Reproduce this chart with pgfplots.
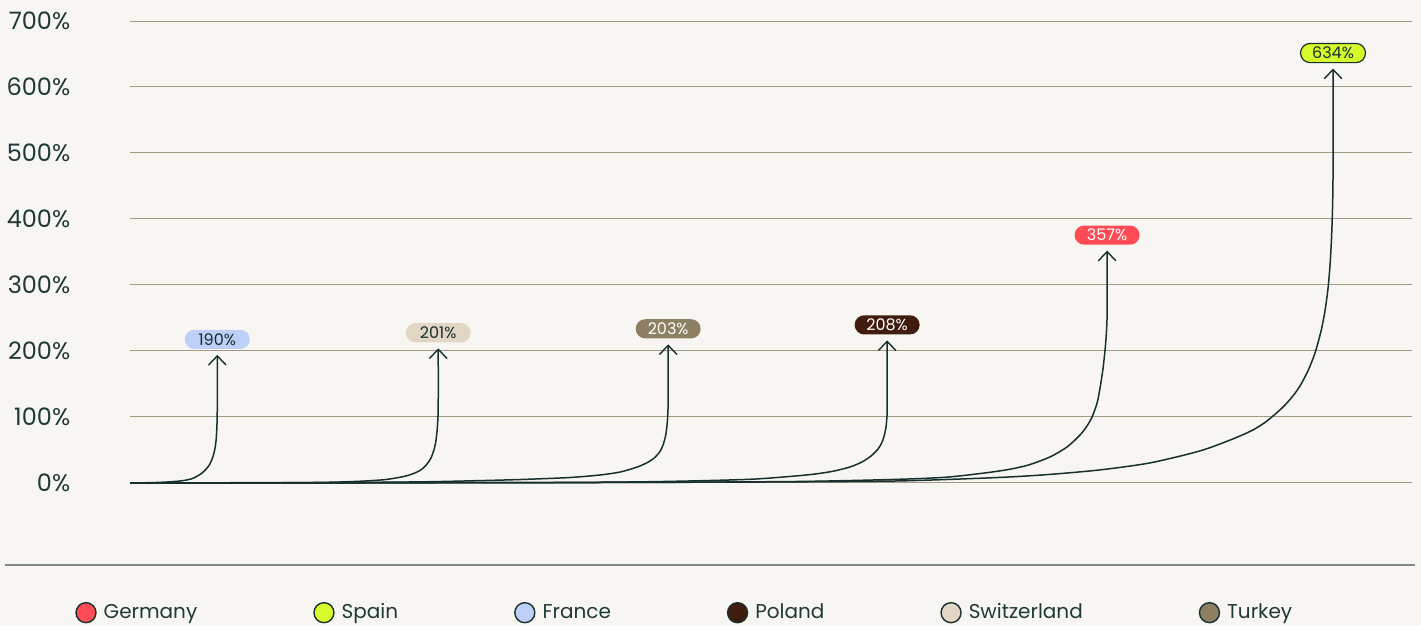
\documentclass[border=0pt]{standalone}
\usepackage{fontspec}
\setmainfont{Poppins}
\usepackage{pgfplots}
\pgfplotsset{compat=1.18}
\usetikzlibrary{arrows.meta}
\definecolor{bg}{HTML}{F8F6F2}
\definecolor{gridc}{HTML}{A39882}
\definecolor{dark}{HTML}{17302D}
\definecolor{tickc}{HTML}{1F3A36}
\definecolor{sepc}{HTML}{7D8A85}
\definecolor{cFrance}{HTML}{BED0F8}
\definecolor{cSwitz}{HTML}{E2D6C5}
\definecolor{cTurkey}{HTML}{8D8062}
\definecolor{cPoland}{HTML}{3F1C0E}
\definecolor{cGermany}{HTML}{FF4B55}
\definecolor{cSpain}{HTML}{D6FA2B}
\begin{document}
\begin{tikzpicture}[x=1pt,y=1pt]
\fill[bg] (0,0) rectangle (710.5,313);
\begin{axis}[
  at={(65pt,71.5pt)}, anchor=south west,
  scale only axis, width=641pt, height=231pt,
  xmin=0, xmax=1282, ymin=0, ymax=700,
  clip=false,
  axis line style={draw=none},
  xtick=\empty,
  ytick={0,100,...,700},
  yticklabels={0\%,100\%,200\%,300\%,400\%,500\%,600\%,700\%},
  major tick length=0pt,
  yticklabel style={font=\fontsize{12}{14}\selectfont, text=tickc, anchor=east, xshift=-26.5pt},
  ymajorgrids, grid style={draw=gridc, line width=0.5pt},
  curve/.style={forget plot, smooth, tension=0.45, draw=dark, line width=0.75pt, -{Straight Barb[length=4.6pt,width=8.8pt,line width=0.7pt]}},
  pill/.style={forget plot, draw=none, mark=none, nodes near coords style={anchor=center, yshift=7.75pt, rounded corners=4.8pt, minimum height=9.6pt, minimum width=32.5pt, inner sep=0pt, font=\fontsize{8}{9}\selectfont}},
  legend columns=6,
  legend image code/.code={\draw[#1, draw=dark, line width=0.7pt] (5pt,0pt) circle (5pt);},
  legend style={at={(-0.0429,-0.281)}, anchor=west, draw=none, fill=none, inner sep=0pt, outer sep=0pt,
    font=\fontsize{10}{12}\selectfont, text=tickc,
    /tikz/every even column/.append style={column sep=54.5pt},
    nodes={inner sep=3.5pt}},
]
% France
\addplot[curve] coordinates {(0,0) (20,0.3) (35,1.2) (45,2.2) (53,3.5) (62,6.5) (70,13) (75,19.5) (79,27) (81.5,35) (83.5,44) (85,55) (86,68) (86.6,85) (86.9,100) (87,120) (87,194)};
% Switzerland
\addplot[curve] coordinates {(0,0) (150,0.2) (200,1) (230,2.5) (255,5) (273,9.5) (283,14) (291,20) (296.5,28) (300.5,37) (303.5,49) (305.5,62) (306.8,78) (307.6,96) (308,120) (308,204)};
% Turkey
\addplot[curve] coordinates {(0,0) (200,0.5) (288,1.5) (338,3) (388,5) (438,8) (470,12) (490,16.5) (507,24) (518,31.5) (525,39) (530,48) (533,58) (535.5,72) (537,90) (537.7,108) (538,125) (538,210)};
% Poland
\addplot[curve] coordinates {(0,0) (400,0.5) (507,1.5) (577,3.5) (627,6) (677,12.1) (702,17.4) (720,24.2) (732,31.8) (741,40.9) (748,51.5) (752,62) (754.5,74) (756,86) (756.7,98.5) (757,114) (757,216)};
% Germany
\addplot[curve] coordinates {(0,0) (400,0.4) (550,1) (677,2.3) (770,5.5) (820,9.1) (870,18.2) (897,26.5) (920,39.4) (937,54.5) (950,72.7) (957,86.4) (962,100) (967,121) (970,144) (973,174) (975,202) (976,220) (976.7,239) (977,258) (977,352)};
% Spain
\addplot[curve] coordinates {(0,0) (300,0.2) (500,0.7) (650,1.5) (770,3) (870,8.3) (920,12.9) (970,19.7) (1020,30.3) (1070,48.5) (1103,66.7) (1123,80.3) (1137,93.9) (1153,115) (1163,132) (1170,147) (1178,170) (1185,197) (1191,230) (1195,261) (1198,295) (1200,330) (1201.5,371) (1202.5,417) (1203,470) (1203,628)};
% value labels
\addplot[pill, nodes near coords={190\%}, nodes near coords style={fill=cFrance, text=dark}] coordinates {(87,194)};
\addplot[pill, nodes near coords={201\%}, nodes near coords style={fill=cSwitz, text=dark}] coordinates {(308,204)};
\addplot[pill, nodes near coords={203\%}, nodes near coords style={fill=cTurkey, text=white}] coordinates {(538,210)};
\addplot[pill, nodes near coords={208\%}, nodes near coords style={fill=cPoland, text=white}] coordinates {(757,216)};
\addplot[pill, nodes near coords={357\%}, nodes near coords style={fill=cGermany, text=white}] coordinates {(977,352)};
\addplot[pill, nodes near coords={634\%}, nodes near coords style={fill=cSpain, text=dark, draw=dark, line width=0.6pt}] coordinates {(1203,628)};
% legend
\addlegendimage{fill=cGermany}\addlegendentry{Germany}
\addlegendimage{fill=cSpain}\addlegendentry{Spain}
\addlegendimage{fill=cFrance}\addlegendentry{France}
\addlegendimage{fill=cPoland}\addlegendentry{Poland}
\addlegendimage{fill=cSwitz}\addlegendentry{Switzerland}
\addlegendimage{fill=cTurkey}\addlegendentry{Turkey}
\end{axis}
\draw[sepc, line width=0.75pt] (2.5,30.5) -- (707.5,30.5);
\end{tikzpicture}
\end{document}
